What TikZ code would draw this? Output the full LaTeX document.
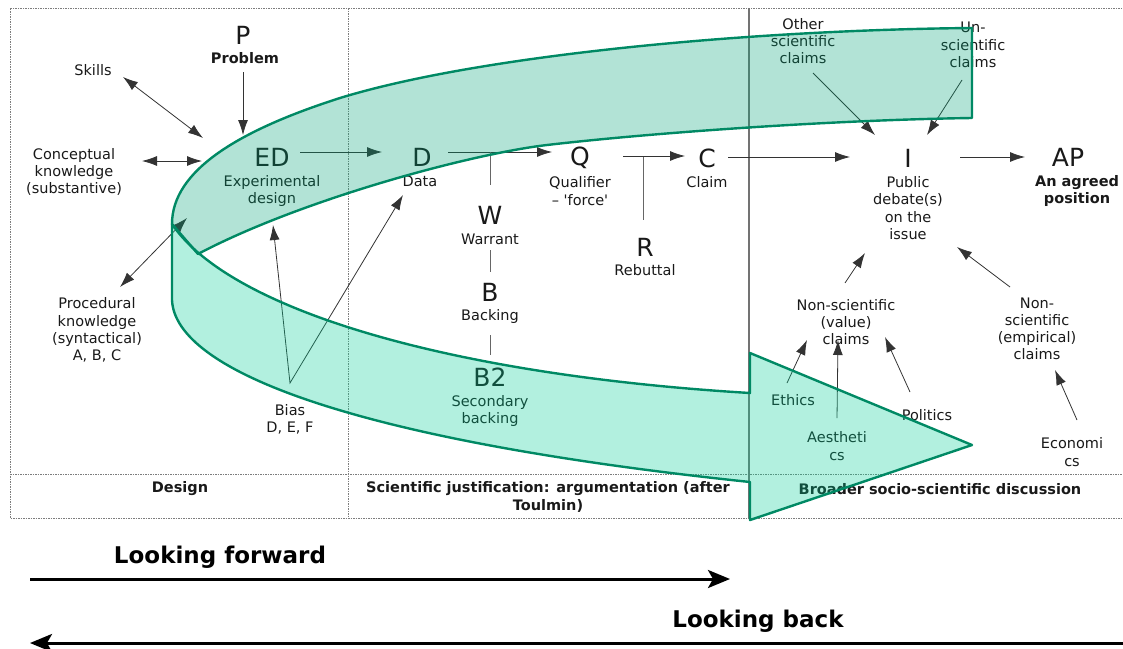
\documentclass[tikz,border=0pt]{standalone}
\usepackage{fontspec}
\setmainfont{DejaVu Sans}
\newfontfamily\qfont{DejaVu Sans}
\usetikzlibrary{arrows.meta,calc}
\definecolor{ribline}{RGB}{0,137,100}
\definecolor{topfill}{RGB}{0,162,118}
\definecolor{botfill}{RGB}{0,205,148}
\definecolor{txt}{RGB}{25,25,25}
\definecolor{framecol}{RGB}{125,125,125}
\begin{document}
\begin{tikzpicture}[x=1pt,y=-1pt,
  lbl/.style={font=\fontsize{14.5}{17.2}\selectfont, inner sep=0pt, align=center, text=txt},
  blbl/.style={lbl, font=\fontsize{14.5}{17.2}\selectfont\bfseries},
  big/.style={font=\fontsize{25}{30}\selectfont, inner sep=0pt, text=txt},
  huge/.style={font=\fontsize{23}{28}\selectfont\bfseries, inner sep=0pt, text=black},
  conn/.style={draw=black!80, line width=0.8pt},
  arr/.style={conn, -{Latex[length=15pt,width=10pt]}},
  darr/.style={conn, {Latex[length=15pt,width=10pt]}-{Latex[length=15pt,width=10pt]}},
  tie/.style={draw=black!60, line width=0.8pt},
  dashframe/.style={draw=framecol, line width=1pt, dash pattern=on 1.5pt off 1pt},
  band/.style={draw=ribline, line width=2.4pt, line join=round, fill opacity=0.3},
  bigarr/.style={draw=black, line width=3pt, -{Stealth[length=22pt,width=18pt,inset=5pt]}}
]
\useasboundingbox (0,0) rectangle (1123,648);
% frame
\draw[dashframe] (1122,8) -- (10,8) -- (10,518) -- (1122,518);
\draw[dashframe] (10,474) -- (1122,474);
\draw[dashframe] (348,8) -- (348,518);
\draw[draw=black!55, line width=1.1pt] (749,8) -- (749,518);

% nodes
\node[big] (pL) at (243,35) {P};
\node[blbl] (prob) at (245,58) {Problem};
\node[lbl] (skills) at (93,70) {Skills};
\node[lbl] (concept) at (74,172) {Conceptual\\knowledge\\(substantive)};
\node[big] (ed) at (272,157) {ED};
\node[lbl] (edtxt) at (272,191) {Experimental\\design};
\node[lbl] (proc) at (97,330) {Procedural\\knowledge\\(syntactical)\\A, B, C};
\node[lbl] (bias) at (290,419) {Bias\\D, E, F};
\node[big] (d) at (422,157) {D};
\node[lbl] (data) at (420,181) {Data};
\node[big] (w) at (490,215) {W};
\node[lbl] (warrant) at (490,239) {Warrant};
\node[big] (b) at (490,292) {B};
\node[lbl] (backing) at (490,316) {Backing};
\node[big] (b2) at (490,377) {B2};
\node[lbl] (secb) at (490,411) {Secondary\\backing};
\node[big] (q) at (580,158) {Q};
\node[lbl] (qual) at (580,191) {Qualifier\\– {\qfont '}force{\qfont '}};
\node[big] (r) at (645,247) {R};
\node[lbl] (reb) at (645,270) {Rebuttal};
\node[big] (c) at (707,158) {C};
\node[lbl] (claim) at (707,182) {Claim};
\node[lbl] (other) at (803,41) {Other\\scientific\\claims};
\node[lbl] (unsci) at (973,45) {Un-\\scientific\\claims};
\node[big] (i) at (908,158) {I};
\node[lbl] (pub) at (908,208) {Public\\debate(s)\\on the\\issue};
\node[big] (ap) at (1068,157) {AP};
\node[blbl] (agreed) at (1077,191) {An agreed\\position};
\node[lbl] (nsv) at (846,322) {Non-scientific\\(value)\\claims};
\node[lbl] (nse) at (1037,329) {Non-\\scientific\\(empirical)\\claims};
\node[lbl] (ethics) at (793,400) {Ethics};
\node[lbl] (aest) at (837,446) {Aestheti\\cs};
\node[lbl] (politics) at (927,415) {Politics};
\node[lbl] (econ) at (1072,452) {Economi\\cs};
\node[blbl] (design) at (180,489) {Design};
\node[blbl] (scij) at (548,497) {Scientific justification: argumentation (after\\Toulmin)};
\node[blbl] (broader) at (940,489) {Broader socio-scientific discussion};
\node[huge] (lf) at (220,557) {Looking forward};
\node[huge] (lb) at (758,621) {Looking back};

% free ends on the ribbon
\coordinate (edP) at (243,135);
\coordinate (edSk) at (203,138);
\coordinate (edCo) at (202,161);
\coordinate (curl) at (187,218);

% connectors
\draw[arr] ($(prob)+(-2,14)$) -- (edP);
\draw[darr] ($(skills)+(30,7)$) -- (edSk);
\draw[darr] ($(concept)+(68,-11)$) -- (edCo);
\draw[darr] ($(proc)+(23,-43)$) -- (curl);
\draw[arr] ($(ed)+(28,-5)$) -- ($(d)+(-40,-5)$);
\draw[darr] ($(edtxt)+(1,34)$) -- ($(bias)+(0,-36)$) -- ($(data)+(-17,14)$);
\draw[arr] ($(d)+(26,-5)$) -- ($(q)+(-28,-6)$);
\draw[tie] ($(w)+(0,-63)$) -- ($(w)+(0,-30)$);
\draw[tie] ($(warrant)+(0,11)$) -- ($(b)+(0,-20)$);
\draw[tie] ($(backing)+(0,19)$) -- ($(b2)+(0,-22)$);
\draw[arr] ($(q)+(43,-2)$) -- ($(c)+(-22,-2)$);
\draw[tie] ($(r)+(-2,-90)$) -- ($(r)+(-2,-27)$);
\draw[arr] ($(c)+(21,-1)$) -- ($(i)+(-58,-1)$);
\draw[arr] ($(i)+(52,-1)$) -- ($(ap)+(-43,0)$);
\draw[arr] ($(other)+(10,32)$) -- ($(i)+(-33,-23)$);
\draw[arr] ($(unsci)+(-11,35)$) -- ($(i)+(19,-23)$);
\draw[arr] ($(nsv)+(-1,-39)$) -- ($(pub)+(-43,45)$);
\draw[arr] ($(nse)+(-27,-42)$) -- ($(pub)+(49,39)$);
\draw[arr] ($(ethics)+(-6,-17)$) -- ($(nsv)+(-39,18)$);
\draw[arr] ($(aest)+(0,-28)$) -- ($(nsv)+(-8,18)$);
\draw[arr] ($(politics)+(-17,-23)$) -- ($(nsv)+(39,15)$);
\draw[arr] ($(econ)+(5,-32)$) -- ($(nse)+(18,41)$);
\draw[bigarr] ($(lf)+(-190,22)$) -- ($(lf)+(510,22)$);
\draw[bigarr] ($(lb)+(368,22)$) -- ($(lb)+(-728,22)$);

% ribbon
\path[band, fill=botfill] (172,224) -- (172,300) .. controls (175,370) and (350,440) .. (750,482)
  -- (750,520) -- (972,445) -- (750,353) -- (750,393)
  .. controls (450,375) and (230,310) .. (172,224) -- cycle;
\path[band, fill=topfill] (172,224) .. controls (172,170) and (240,130) .. (340,98)
  .. controls (480,55) and (750,30) .. (972,28) -- (972,118)
  .. controls (830,120) and (650,133) .. (547,145)
  .. controls (470,154) and (300,200) .. (198,254) -- cycle;
\end{tikzpicture}
\end{document}
